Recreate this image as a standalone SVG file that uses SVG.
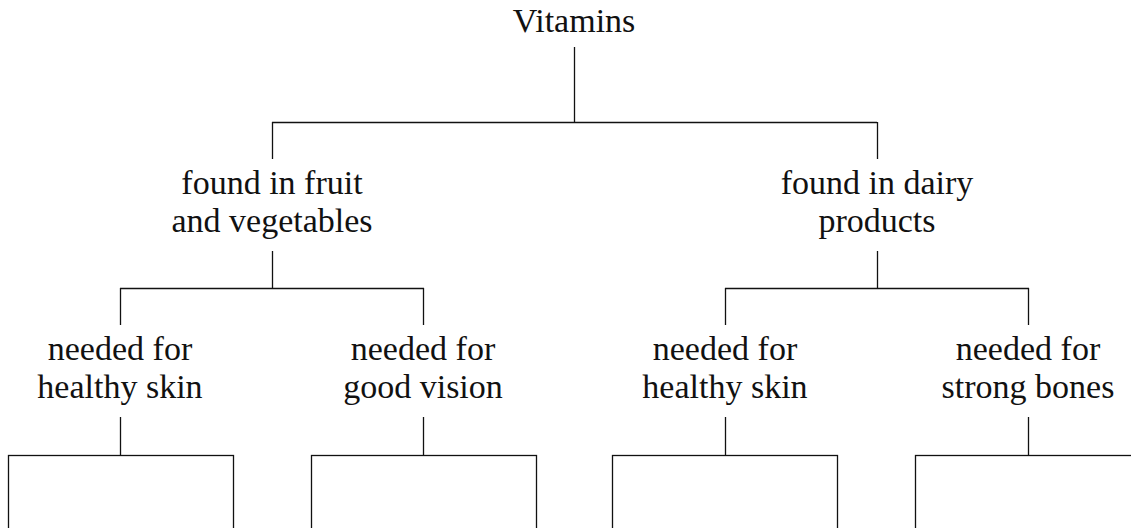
<svg xmlns="http://www.w3.org/2000/svg" width="1131" height="528" viewBox="0 0 1131 528">
<style>
text{font-family:"Liberation Serif","Times New Roman",serif;font-size:34px;fill:#111;text-anchor:middle}
.c line,.b rect{stroke:#111;stroke-width:1.3;fill:none}
</style>
<rect width="1131" height="528" fill="#fff"/>
<g id="connectors" class="c">
<line x1="574.5" y1="47" x2="574.5" y2="122.5"/>
<line x1="272" y1="122.5" x2="877" y2="122.5"/>
<line x1="272.5" y1="122" x2="272.5" y2="159"/>
<line x1="877.5" y1="122" x2="877.5" y2="159"/>
<line x1="272.5" y1="251" x2="272.5" y2="288.5"/>
<line x1="120" y1="288.5" x2="424" y2="288.5"/>
<line x1="120.5" y1="288" x2="120.5" y2="325"/>
<line x1="423.5" y1="288" x2="423.5" y2="325"/>
<line x1="877.5" y1="251" x2="877.5" y2="288.5"/>
<line x1="725" y1="288.5" x2="1029" y2="288.5"/>
<line x1="725.5" y1="288" x2="725.5" y2="325"/>
<line x1="1028.5" y1="288" x2="1028.5" y2="325"/>
<line x1="120.5" y1="417" x2="120.5" y2="455"/>
<line x1="423.5" y1="417" x2="423.5" y2="455"/>
<line x1="725.5" y1="417" x2="725.5" y2="455"/>
<line x1="1028.5" y1="417" x2="1028.5" y2="455"/>
</g>
<g id="root"><text x="574" y="32">Vitamins</text></g>
<g id="fruit"><text x="272" y="194">found in fruit</text><text x="272" y="232">and vegetables</text></g>
<g id="dairy"><text x="877" y="194">found in dairy</text><text x="877" y="232">products</text></g>
<g id="skin1"><text x="120" y="360">needed for</text><text x="120" y="398">healthy skin</text></g>
<g id="vision"><text x="423" y="360">needed for</text><text x="423" y="398">good vision</text></g>
<g id="skin2"><text x="725" y="360">needed for</text><text x="725" y="398">healthy skin</text></g>
<g id="bones"><text x="1028" y="360">needed for</text><text x="1028" y="398">strong bones</text></g>
<g id="box1" class="b"><rect x="8.5" y="455.5" width="225" height="90"/></g>
<g id="box2" class="b"><rect x="311.5" y="455.5" width="225" height="90"/></g>
<g id="box3" class="b"><rect x="612.5" y="455.5" width="225" height="90"/></g>
<g id="box4" class="b"><rect x="915.5" y="455.5" width="225" height="90"/></g>
</svg>
